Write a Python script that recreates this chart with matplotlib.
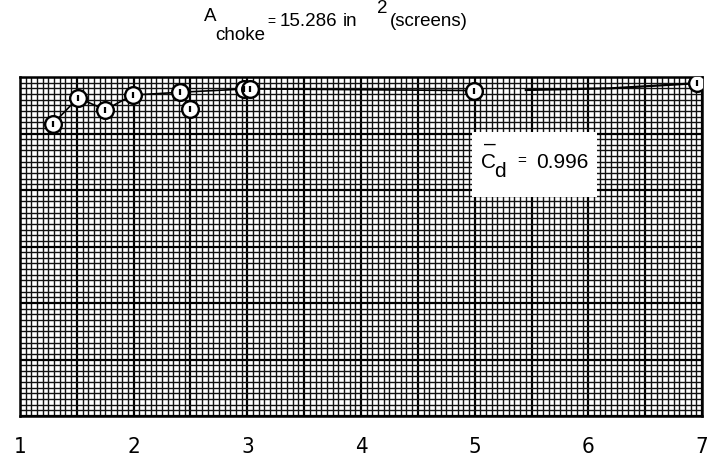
import numpy as np
import matplotlib
matplotlib.use("Agg")
import matplotlib.pyplot as plt
from matplotlib.patches import Rectangle

# Discharge coefficient readings (x = test station, y = Cd)
x_pts = [1.29, 1.51, 1.75, 1.99, 2.41, 2.50, 2.97, 3.02, 4.99, 6.96]
cd_pts = [0.9917, 0.9963, 0.9942, 0.9968, 0.9973, 0.9943, 0.9979, 0.9979, 0.9975, 0.9989]

# hand-faired curve through the points
fair_x = [1.29, 1.51, 1.75, 1.99, 2.41, 3.00, 4.99]
fair_y = [0.9917, 0.9963, 0.9942, 0.9968, 0.9973, 0.9979, 0.9976]
fair2_x = [5.45, 6.20, 6.96]
fair2_y = [0.9977, 0.9980, 0.9989]

x_ticks = [1, 2, 3, 4, 5, 6, 7]
cd_mean = "0.996"
area = "15.286"

W, H = 717, 465
fig = plt.figure(figsize=(W / 100, H / 100), dpi=100)
fig.patch.set_facecolor("white")

# axes box in pixel terms
L, R, T, B = 20, 702, 77, 416
ax = fig.add_axes([L / W, 1 - B / H, (R - L) / W, (B - T) / H])
x0, x1 = 1.0, 7.0
y0, y1 = 0.94, 1.00
ax.set_xlim(x0, x1)
ax.set_ylim(y0, y1)

# graph paper: 10 minor divisions per major square
xs = np.linspace(x0, x1, 121)
ys = np.linspace(y0, y1, 61)
for i, xv in enumerate(xs):
    major = i % 10 == 0
    ax.axvline(xv, color="black" if major else "#111111",
               lw=1.6 if major else 1.0, zorder=1)
for i, yv in enumerate(ys):
    major = i % 10 == 0
    ax.axhline(yv, color="black" if major else "#111111",
               lw=1.6 if major else 1.0, zorder=1)

for sp in ax.spines.values():
    sp.set_linewidth(1.8)
    sp.set_color("black")

# label box
ax.add_patch(Rectangle((0.663, 0.646), 0.183, 0.192, transform=ax.transAxes,
                       facecolor="white", edgecolor="none", zorder=2))

ax.plot(fair_x, fair_y, color="black", lw=1.2, zorder=3)
ax.plot(fair2_x, fair2_y, color="black", lw=1.6, zorder=3)
ax.plot(x_pts, cd_pts, linestyle="none", marker="o", ms=12, mfc="white",
        mec="black", mew=1.7, zorder=4)
ax.plot(x_pts, cd_pts, linestyle="none", marker="|", ms=5, mec="black",
        mew=1.6, zorder=5)

ax.set_xticks(x_ticks)
ax.set_xticklabels([str(v) for v in x_ticks], family="DejaVu Sans",
                   stretch="condensed", fontsize=16)
ax.tick_params(axis="x", length=0, pad=15)
ax.set_yticks([])


def px(x, y):
    return x / W, 1 - y / H


title_font = dict(family=["Liberation Sans", "DejaVu Sans"], fontsize=13.5, color="black")
fig.text(*px(204, 21), "A", va="baseline", **title_font)
fig.text(*px(215, 40), "choke", va="baseline", **title_font)
fig.text(*px(267, 26), "=", va="baseline", family=["Liberation Sans", "DejaVu Sans"],
         fontsize=10)
fig.text(*px(280, 26), area, va="baseline", **title_font)
fig.text(*px(343, 26), "in", va="baseline", **title_font)
fig.text(*px(377, 13), "2", va="baseline", **title_font)
fig.text(*px(390, 26), "(screens)", va="baseline", **title_font)

box_font = dict(family=["Liberation Sans", "DejaVu Sans"], fontsize=15, color="black")
fig.text(*px(481, 168), "C", va="baseline", **box_font)
fig.text(*px(484, 150), "\u2013", va="baseline", **box_font)
fig.text(*px(494, 177), "d", va="baseline", **box_font)
fig.text(*px(517, 165), "=", va="baseline", family=["Liberation Sans", "DejaVu Sans"],
         fontsize=11)
fig.text(*px(536, 168), cd_mean, va="baseline", **box_font)

fig.savefig("out.png", dpi=100)
